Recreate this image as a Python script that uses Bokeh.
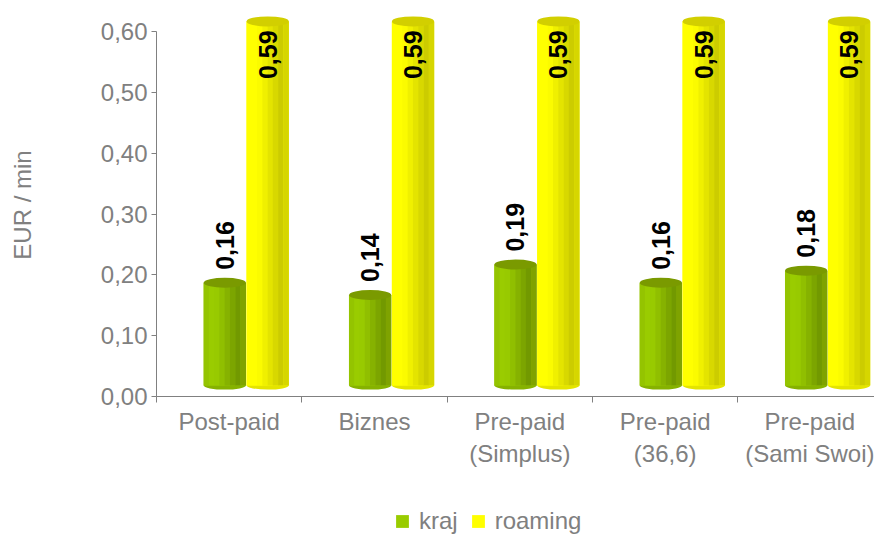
import numpy as np
from bokeh.plotting import figure
from bokeh.layouts import column
from bokeh.core.properties import value
from bokeh.models import (Range1d, FixedTicker, CustomJSTickFormatter, ColumnDataSource,
                          LabelSet, Legend, LegendItem)
from bokeh.embed import file_html
from bokeh.resources import INLINE

# ---------------- data ----------------
categories = ["Post-paid", "Biznes", "Pre-paid\n(Simplus)", "Pre-paid\n(36,6)", "Pre-paid\n(Sami Swoi)"]
kraj = [0.16, 0.14, 0.19, 0.16, 0.18]
roaming = [0.59, 0.59, 0.59, 0.59, 0.59]
series_names = ["kraj", "roaming"]
y_ticks = [0.0, 0.1, 0.2, 0.3, 0.4, 0.5, 0.6]

# ---------------- style ----------------
FONT = "Liberation Sans"
GRAY = "#808080"
BASE = 0.018      # 3D floor offset (data units)
TOPADD = 0.027    # 3D top offset
W = 0.29
green_strips = ["#94c400", "#9acc00", "#98ca00", "#90bf00", "#86b200", "#7ca500", "#729900", "#7fa300"]
yellow_strips = ["#ffff00", "#ffff00", "#fbfb00", "#f0f000", "#e4e400", "#d8d800", "#cccc00", "#d6d600"]
GREEN = "#99cc00"
YELLOW = "#ffff00"

p = figure(width=874, height=505, output_backend="svg", toolbar_location=None,
           x_range=Range1d(0, 4.94), y_range=Range1d(0, 0.63),
           min_border_left=156, min_border_right=0, min_border_top=13, min_border_bottom=109)
p.outline_line_color = None
p.grid.visible = False
p.background_fill_color = "white"
p.border_fill_color = "white"

xc = np.arange(len(categories)) + 0.5


def cylinder(xs, vals, strips, cap_color, base_color):
    vals = np.array(vals, dtype=float)
    top = vals + TOPADD
    bottom = np.full(len(vals), BASE)
    p.ellipse(x=xs, y=bottom, width=W, height=8, height_units="screen",
              fill_color=strips[4], line_color=None)
    p.vbar(x=xs, top=top, bottom=bottom, width=W, fill_color=base_color, line_color=None)
    n = len(strips)
    sw = W / n
    for k, c in enumerate(strips):
        p.vbar(x=xs - W / 2 + sw * (k + 0.5), top=top, bottom=bottom, width=sw * 1.05,
               fill_color=c, line_color=None)
    p.ellipse(x=xs, y=top, width=W, height=10, height_units="screen",
              fill_color=cap_color, line_color=None)
    return top


g_top = cylinder(xc - 0.03, kraj, green_strips, "#7a9a00", GREEN)
y_top = cylinder(xc + 0.265, roaming, yellow_strips, "#d2cf00", YELLOW)

g_src = ColumnDataSource(dict(x=xc - 0.03, y=g_top,
                              t=[f"{v:.2f}".replace(".", ",") for v in kraj]))
y_src = ColumnDataSource(dict(x=xc + 0.265, y=y_top,
                              t=[f"{v:.2f}".replace(".", ",") for v in roaming]))

lab_kw = dict(x="x", y="y", text="t", angle=np.pi / 2, text_baseline="middle",
              text_font=value(FONT), text_font_size=value("25px"),
              text_font_style=value("bold"), text_color=value("black"))
p.add_layout(LabelSet(source=g_src, text_align="left", y_offset=13, **lab_kw))
p.add_layout(LabelSet(source=y_src, text_align="right", y_offset=-9, **lab_kw))

# ---------------- axes ----------------
xa = p.xaxis[0]
xa.ticker = FixedTicker(ticks=list(xc), minor_ticks=list(range(len(categories) + 1)))
xa.major_label_overrides = {float(x): c for x, c in zip(xc, categories)}
xa.major_tick_out = 0
xa.major_tick_in = 0
xa.minor_tick_out = 6
xa.minor_tick_in = 0
xa.minor_tick_line_color = GRAY
xa.axis_line_color = GRAY
xa.major_label_text_font = FONT
xa.major_label_text_font_size = "24px"
xa.major_label_text_color = GRAY
xa.major_label_standoff = 5

ya = p.yaxis[0]
ya.ticker = FixedTicker(ticks=y_ticks)
ya.formatter = CustomJSTickFormatter(code="return tick.toFixed(2).replace('.', ',');")
ya.bounds = (0, 0.6)
ya.major_tick_out = 5
ya.major_tick_in = 0
ya.minor_tick_out = 0
ya.minor_tick_in = 0
ya.major_tick_line_color = GRAY
ya.axis_line_color = GRAY
ya.major_label_text_font = FONT
ya.major_label_text_font_size = "24px"
ya.major_label_text_color = GRAY
ya.major_label_standoff = 4
ya.axis_label = "EUR / min"
ya.axis_label_text_font = FONT
ya.axis_label_text_font_size = "24px"
ya.axis_label_text_font_style = "normal"
ya.axis_label_text_color = GRAY
ya.axis_label_standoff = 62

# ---------------- legend (separate strip below the chart) ----------------
lg = figure(width=874, height=30, output_backend="svg", toolbar_location=None,
            x_axis_type=None, y_axis_type=None,
            x_range=Range1d(0, 4.94), y_range=Range1d(0, 0.63),
            min_border_left=0, min_border_right=0, min_border_top=0, min_border_bottom=0)
lg.outline_line_color = None
lg.grid.visible = False
# zero-height bars: nothing visible, but they carry the legend swatch colours
r_g = lg.vbar(x=xc, top=kraj, bottom=kraj, width=W, fill_color=GREEN, line_color=None)
r_y = lg.vbar(x=xc, top=roaming, bottom=roaming, width=W, fill_color=YELLOW, line_color=None)
legend = Legend(items=[LegendItem(label=series_names[0], renderers=[r_g]),
                       LegendItem(label=series_names[1], renderers=[r_y])],
                location=(238, 0), orientation="horizontal",
                glyph_width=16, glyph_height=16, label_standoff=9, spacing=12,
                padding=0, margin=0, border_line_color=None, background_fill_alpha=0,
                label_text_font=FONT, label_text_font_size="24px", label_text_color=GRAY)
lg.add_layout(legend, "center")

layout = column(p, lg, spacing=0)
open("out.html", "w").write(file_html(layout, INLINE))
